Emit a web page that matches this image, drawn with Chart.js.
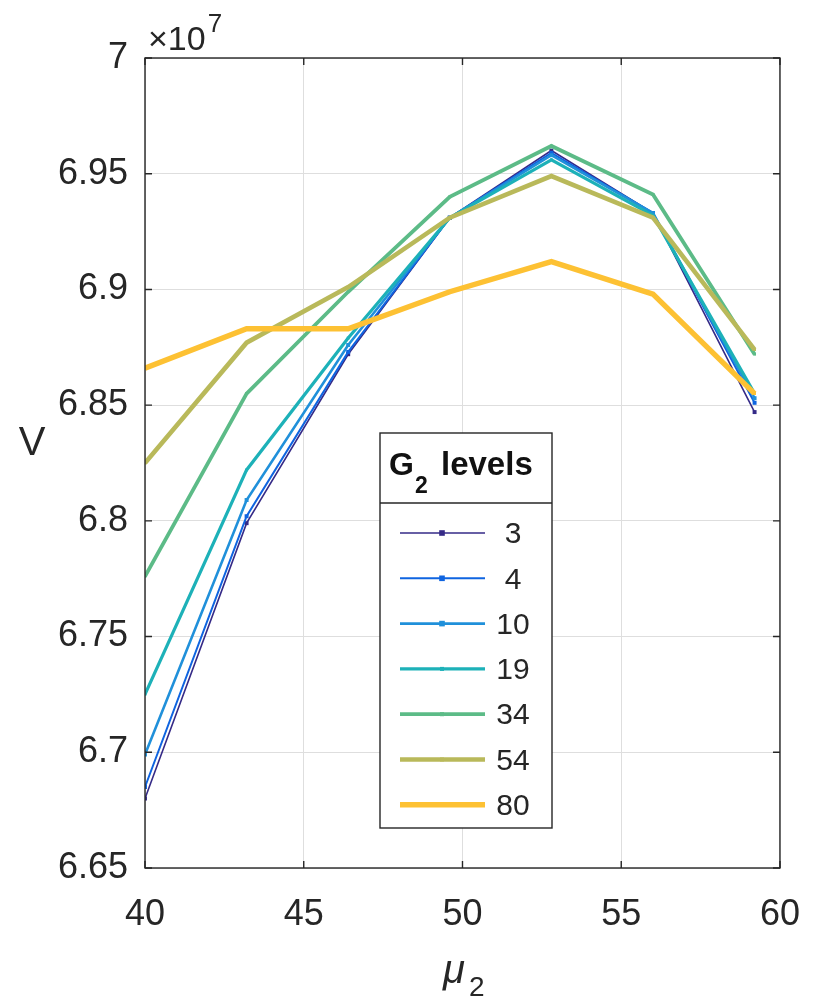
<!DOCTYPE html>
<html>
<head>
<meta charset="utf-8">
<script src="https://cdn.jsdelivr.net/npm/chart.js@4/dist/chart.umd.min.js"></script>
<style>
  body { margin: 0; background: #fff; }
  canvas { display: block; }
</style>
</head>
<body>
<canvas id="vChart" width="825" height="1001"></canvas>
<script>
// mu_2 sample positions
const mu2 = [40, 43.2, 46.4, 49.6, 52.8, 56.0, 59.2];

// V values, in units of 1e7
const g3 = [6.680, 6.799, 6.872, 6.931, 6.960, 6.933, 6.847];
const g4 = [6.685, 6.802, 6.873, 6.931, 6.959, 6.933, 6.851];
const g10 = [6.699, 6.809, 6.876, 6.931, 6.958, 6.933, 6.853];
const g19 = [6.725, 6.822, 6.879, 6.931, 6.956, 6.932, 6.855];
const g34 = [6.776, 6.855, 6.899, 6.940, 6.962, 6.941, 6.872];
const g54 = [6.825, 6.877, 6.901, 6.931, 6.949, 6.931, 6.874];
const g80 = [6.866, 6.883, 6.883, 6.899, 6.912, 6.898, 6.855];

const levels = ["3", "4", "10", "19", "34", "54", "80"];
const seriesData = [g3, g4, g10, g19, g34, g54, g80];
const colors = ["#352a87", "#0f64e0", "#2090da", "#1db1b8", "#5cbb87", "#b9b95a", "#fdc133"];
const widths = [1.6, 2, 2.6, 3.2, 3.8, 4.6, 5.4];

const xTicks = [40, 45, 50, 55, 60];
const yTicks = [6.65, 6.7, 6.75, 6.8, 6.85, 6.9, 6.95, 7];

const FONT = "'Liberation Sans', Arial, Helvetica, sans-serif";
const INK = "#262626";

const datasets = levels.map((lv, i) => ({
  label: lv,
  data: mu2.map((x, j) => ({ x: x, y: seriesData[i][j] })),
  borderColor: colors[i],
  backgroundColor: colors[i],
  borderWidth: widths[i],
  pointRadius: i < 3 ? 2.8 : 2,
  pointStyle: "rect",
  pointBorderWidth: 0,
  tension: 0,
  fill: false,
  order: levels.length - 1 - i,
}));

// box, inward ticks, labels and the legend
const decorations = {
  id: "decorations",
  afterDatasetsDraw(chart) {
    const ctx = chart.ctx;
    const a = chart.chartArea;
    const xs = chart.scales.x;
    const ys = chart.scales.y;
    ctx.save();

    ctx.strokeStyle = INK;
    ctx.lineWidth = 1.4;
    ctx.strokeRect(a.left, a.top, a.right - a.left, a.bottom - a.top);

    const tl = 7;
    ctx.beginPath();
    xTicks.forEach((t) => {
      const px = xs.getPixelForValue(t);
      ctx.moveTo(px, a.bottom); ctx.lineTo(px, a.bottom - tl);
      ctx.moveTo(px, a.top); ctx.lineTo(px, a.top + tl);
    });
    yTicks.forEach((t) => {
      const py = ys.getPixelForValue(t);
      ctx.moveTo(a.left, py); ctx.lineTo(a.left + tl, py);
      ctx.moveTo(a.right, py); ctx.lineTo(a.right - tl, py);
    });
    ctx.stroke();

    // exponent label
    ctx.fillStyle = INK;
    ctx.textBaseline = "alphabetic";
    ctx.textAlign = "left";
    ctx.font = "34px " + FONT;
    ctx.fillText("\u00d710", a.left + 3, a.top - 8);
    const w10 = ctx.measureText("\u00d710").width;
    ctx.font = "26px " + FONT;
    ctx.fillText("7", a.left + 3 + w10 + 2, a.top - 26);

    // y label
    ctx.font = "40px " + FONT;
    ctx.textAlign = "center";
    ctx.fillText("V", 32, 455);

    // x label
    ctx.font = "italic 40px " + FONT;
    ctx.textAlign = "left";
    ctx.fillText("\u03bc", 443, 983);
    ctx.font = "28px " + FONT;
    ctx.fillText("2", 469, 996);

    // legend
    const bx = 380, by = 433, bw = 172, bh = 395, sep = 503;
    ctx.fillStyle = "#fff";
    ctx.fillRect(bx, by, bw, bh);
    ctx.strokeStyle = INK;
    ctx.lineWidth = 1.4;
    ctx.strokeRect(bx, by, bw, bh);
    ctx.beginPath();
    ctx.moveTo(bx, sep); ctx.lineTo(bx + bw, sep);
    ctx.stroke();

    ctx.fillStyle = "#111";
    ctx.font = "bold 32px " + FONT;
    ctx.fillText("G", 389, 475);
    const gw = ctx.measureText("G").width;
    ctx.font = "bold 23px " + FONT;
    ctx.fillText("2", 389 + gw + 1, 493);
    ctx.font = "bold 33px " + FONT;
    ctx.fillText("levels", 441, 475);

    chart.data.datasets.forEach((ds, i) => {
      const y = 533 + i * 45.3;
      ctx.strokeStyle = ds.borderColor;
      ctx.lineWidth = ds.borderWidth;
      ctx.beginPath();
      ctx.moveTo(400, y); ctx.lineTo(485, y);
      ctx.stroke();
      ctx.fillStyle = ds.borderColor;
      const r = ds.pointRadius;
      ctx.fillRect(442 - r, y - r, 2 * r, 2 * r);
      ctx.fillStyle = INK;
      ctx.font = "30px " + FONT;
      ctx.textAlign = "center";
      ctx.textBaseline = "middle";
      ctx.fillText(ds.label, 513, y + 2);
      ctx.textAlign = "left";
      ctx.textBaseline = "alphabetic";
    });

    ctx.restore();
  },
};

function initChart() {
  const ctx = document.getElementById("vChart").getContext("2d");
  new Chart(ctx, {
    type: "line",
    data: { datasets: datasets },
    options: {
      responsive: false,
      animation: false,
      events: [],
      layout: { padding: { top: 58, right: 45, left: 0, bottom: 0 } },
      scales: {
        x: {
          type: "linear",
          min: 40,
          max: 60,
          afterBuildTicks: (s) => { s.ticks = xTicks.map((v) => ({ value: v })); },
          afterFit: (s) => { s.height = 133; },
          grid: { color: "#dedede", lineWidth: 1, drawTicks: false },
          border: { display: false },
          ticks: {
            padding: 25,
            color: INK,
            font: { family: FONT, size: 36 },
            maxRotation: 0,
          },
        },
        y: {
          type: "linear",
          min: 6.65,
          max: 7,
          afterBuildTicks: (s) => { s.ticks = yTicks.map((v) => ({ value: v })); },
          afterFit: (s) => { s.width = 145; },
          grid: { color: "#dedede", lineWidth: 1, drawTicks: false },
          border: { display: false },
          ticks: {
            padding: 17,
            color: INK,
            font: { family: FONT, size: 36 },
            callback: (v) => String(Number(v.toFixed(2))),
          },
        },
      },
      plugins: {
        legend: { display: false },
        tooltip: { enabled: false },
      },
    },
    plugins: [decorations],
  });
}

window.onload = () => {
  initChart();
};
</script>
</body>
</html>
